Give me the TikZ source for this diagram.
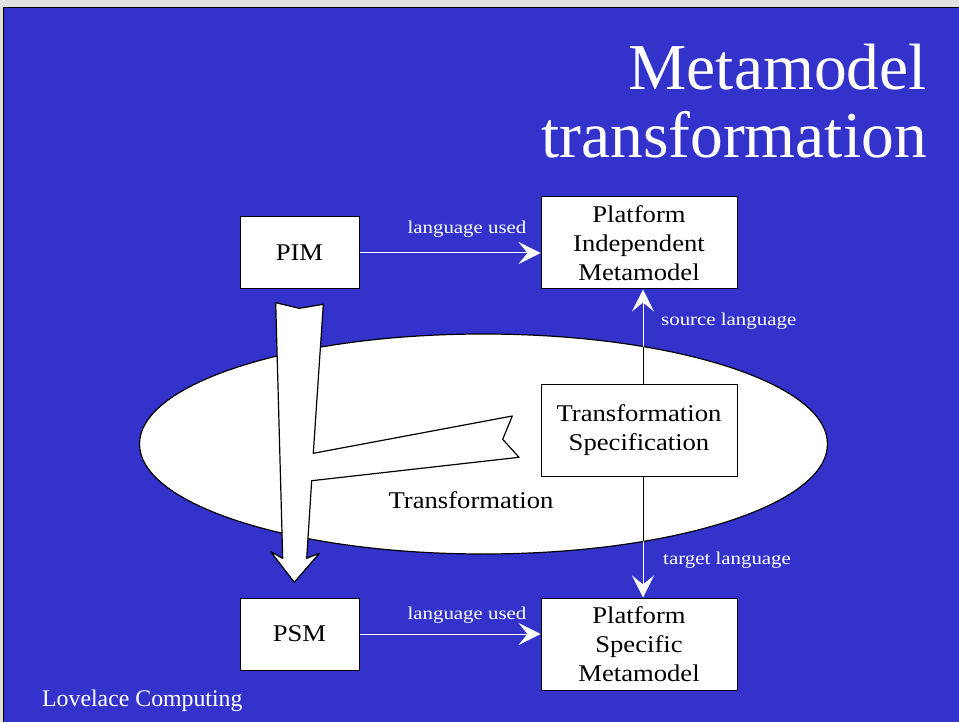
\documentclass[tikz,border=0pt]{standalone}
\usepackage{fontspec}
\setmainfont{Liberation Serif}
\newfontfamily\boxfont{Liberation Serif}[FakeStretch=1.11]
\newfontfamily\lblfont{Liberation Serif}[FakeStretch=1.16]
\usetikzlibrary{arrows.meta}
\definecolor{slideblue}{RGB}{51,51,204}
\definecolor{edgegrey}{RGB}{225,225,225}
\tikzset{
  box/.style={draw=black, fill=white, line width=1pt, inner sep=0pt, align=center,
    font=\boxfont\fontsize{24}{29}\selectfont},
  conn/.style={draw=white, line width=1pt, -{Stealth[length=22pt,width=22pt,inset=9pt]}},
  inner/.style={draw=black, line width=1pt},
  lbl/.style={text=white, font=\lblfont\fontsize{18}{20}\selectfont, inner sep=0pt},
  titletext/.style={text=white, font=\fontsize{65.5}{70}\selectfont, inner sep=0pt},
  blob/.style={draw=black, fill=white, line width=1.2pt, line join=round}
}
\begin{document}
\begin{tikzpicture}[x=1pt,y=-1pt]
\useasboundingbox (0,0) rectangle (959,722);
% background
\fill[edgegrey] (0,0) rectangle (959,722);
\fill[slideblue] (4,8) rectangle (959,722);
\draw[black, line width=1.2pt] (3.5,722) -- (3.5,7.5) -- (959,7.5);
% title
\node[titletext, anchor=base east] (t1) at (927,90) {Metamodel};
\node[titletext, anchor=base east] (t2) at (927,158) {transformation};
% ellipse
\path[blob] (483.5,444) ellipse [x radius=344, y radius=110];
\node[font=\boxfont\fontsize{24}{28}\selectfont, inner sep=0pt, anchor=base] (tr) at (471,508) {Transformation};
% big arrow
\path[blob] (275.7,302.7) -- (299.3,308.3) -- (323.3,304.3) -- (313.3,453.3)
  -- (512.3,416) -- (502.7,439.3) -- (519,457.3) -- (311.7,480.7)
  -- (306.7,558.3) -- (319.3,553.3) -- (294.3,582.3) -- (270.7,551.7)
  -- (282.7,558.3) -- cycle;
% boxes
\node[box, minimum width=119pt, minimum height=72pt] (PIM) at (299.5,253) {PIM};
\node[box, minimum width=196pt, minimum height=92pt] (PIMM) at (639,243) {Platform\\Independent\\Metamodel};
\node[box, minimum width=196pt, minimum height=92pt] (TS) at (639,430) {Transformation\\Specification};
\node[box, minimum width=119pt, minimum height=72pt] (PSM) at (299.5,634) {PSM};
\node[box, minimum width=196pt, minimum height=92pt] (PSMM) at (639,644) {Platform\\Specific\\Metamodel};
% connectors
\draw[conn] (PIM.east) -- (PIM.east -| PIMM.west);
\draw[conn] (PSM.east) -- (PSM.east -| PSMM.west);
\draw[conn] ([xshift=4pt]TS.north) -- ([xshift=4pt]PIMM.south);
\draw[conn] ([xshift=4pt]TS.south) -- ([xshift=4pt]PSMM.north);
\begin{scope}
  \clip (483.5,444) ellipse [x radius=344, y radius=110];
  \draw[inner] ([xshift=4pt]TS.north) -- ([xshift=4pt]PIMM.south);
  \draw[inner] ([xshift=4pt]TS.south) -- ([xshift=4pt]PSMM.north);
\end{scope}
% labels
\node[lbl, anchor=base] (l1) at (467,234) {language used};
\node[lbl, anchor=base] (l2) at (467,619) {language used};
\node[lbl, anchor=base west] (l3) at (661,326) {source language};
\node[lbl, anchor=base west] (l4) at (663,564) {target language};
\node[text=white, font=\fontsize{23.8}{26}\selectfont, inner sep=0pt, anchor=base west] (lc) at (42,706) {Lovelace Computing};
\end{tikzpicture}
\end{document}
